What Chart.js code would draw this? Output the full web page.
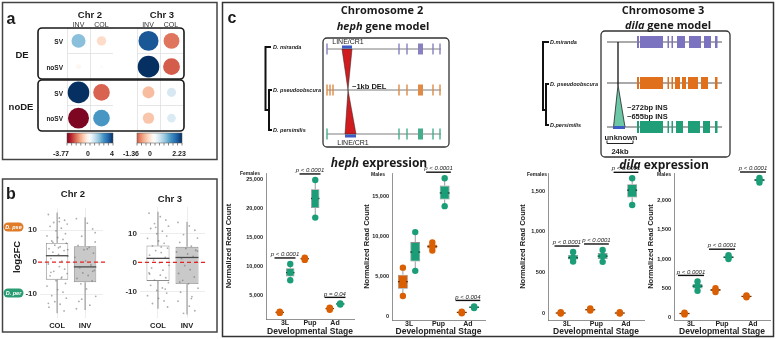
<!DOCTYPE html>
<html lang="en">
<head>
<meta charset="utf-8">
<title>Inversion breakpoints and expression</title>
<script src="https://cdn.jsdelivr.net/npm/chart.js@4.4.1/dist/chart.umd.min.js"></script>
<style>
  html, body { margin: 0; padding: 0; background: #fff; }
  #fig { position: relative; width: 776px; height: 339px; overflow: hidden; }
  #fig canvas { position: absolute; }
  #overlay { position: absolute; left: 0; top: 0; }
</style>
</head>
<body>
<div id="fig">
  <canvas id="corr2"></canvas>
  <canvas id="corr3"></canvas>
  <canvas id="fc2"></canvas>
  <canvas id="fc3"></canvas>
  <canvas id="hephF"></canvas>
  <canvas id="hephM"></canvas>
  <canvas id="dilaF"></canvas>
  <canvas id="dilaM"></canvas>
  <svg id="overlay" width="776" height="339" xmlns="http://www.w3.org/2000/svg"></svg>
</div>
<script>
// ---- panel a: corrplot values (rows SV/noSV for DE then noDE, cols INV/COL)
const corrRows = ['SV', 'noSV', 'SV', 'noSV'];
const corrCols = ['INV', 'COL'];
const chr2Corr = [[1.68, -0.76], [-0.21, 0.1], [4.0, -2.36], [-3.77, 2.36]];
const chr3Corr = [[1.91, -1.2], [2.23, -1.36], [-0.69, 0.39], [-0.62, 0.35]];
const chr2Lim = [-3.77, 4];
const chr3Lim = [-1.36, 2.23];

// ---- panel b: log2FC, box = [low whisker, q1, median, q3, high whisker]
const fcGroups = ['COL', 'INV'];
const chr2Box = [[-16, -5.5, 2, 6, 15.5], [-15, -6.3, -1.5, 5, 14]];
const chr3Box = [[-16, -6.4, 1.4, 5.8, 17.5], [-18, -7.5, 1.7, 5.4, 14]];
const chr2ColPts = [14.9, 13.8, 13.1, 12.4, 11.9, 11.2, 10.6, 9.8, 8.9, 8.2, 7.7, 7.1, 6.6, 5.9, 5.3, 4.8, 4.2, 3.6, 3.1, 2.4,
  1.8, 1.1, 0.3, -0.6, -1.4, -2.2, -2.9, -3.6, -4.3, -5.0, -5.8, -6.7, -7.5, -8.6, -9.4, -10.5, -11.3, -12.4, -13.2, -14.1,
  -15.3, 6.2, 4.5, 3.9, -3.2, -4.7, -12.9, 12.7];
const chr2InvPts = [13.6, 12.2, 10.4, 8.1, 6.3, 5.2, 4.6, 3.9, 2.8, 1.5, 0.4, -0.9, -1.8, -2.6, -3.4, -4.2, -5.1, -5.9, -6.8,
  -8.4, -10.7, -12.3, -13.5, -14.6, 4.1, -2.9, -11.6, 9.2];
const chr3ColPts = [17.0, 15.8, 14.6, 13.4, 12.5, 11.7, 10.8, 9.9, 9.1, 8.3, 7.4, 6.6, 5.7, 4.9, 4.1, 3.4, 2.5, 1.7, 0.8, -0.1,
  -1.0, -1.9, -2.7, -3.6, -4.4, -5.3, -6.1, -7.0, -7.9, -8.8, -9.7, -10.6, -11.5, -12.4, -13.3, -14.2, -15.4, 12.1, 5.3, -4.0, -9.2];
const chr3InvPts = [13.8, 12.6, 11.1, 9.6, 8.4, 6.9, 5.6, 4.8, 4.2, 3.6, 2.9, 2.1, 1.3, 0.2, -1.1, -2.5, -3.8, -5.0, -6.2,
  -7.4, -8.9, -10.3, -11.8, -13.4, -15.1, -16.7, -17.6, 3.9, -6.8, -12.5];

// ---- panel c: normalized read counts, three replicates per stage
const stages = ['3L', 'Pup', 'Ad'];
const hephFemPse = [[2050, 2150, 2250], [11200, 11400, 11600], [2600, 2800, 2950]];
const hephFemPer = [[7700, 9000, 10500], [18500, 21800, 25000], [3500, 3600, 3700]];
const hephFemP = ['p < 0.0001', 'p < 0.0001', 'p = 0.04'];
const hephMalPse = [[2600, 4400, 6150], [8300, 8800, 9300], [450, 550, 650]];
const hephMalPer = [[5750, 8100, 10600], [13850, 15500, 17350], [1100, 1200, 1300]];
const hephMalP = ['', 'p < 0.0001', 'p < 0.004'];
const dilaFemPse = [[5, 10, 20], [40, 50, 65], [5, 10, 20]];
const dilaFemPer = [[640, 685, 755], [635, 705, 780], [1330, 1510, 1655]];
const dilaFemP = ['p < 0.0001', 'p < 0.0001', 'p < 0.0001'];
const dilaMalPse = [[60, 75, 90], [440, 475, 505], [350, 365, 380]];
const dilaMalPer = [[460, 540, 620], [1000, 1030, 1065], [2300, 2340, 2375]];
const dilaMalP = ['p < 0.0001', 'p < 0.0001', 'p < 0.0001'];

const ORANGE = '#d95f02';
const TEAL = '#1b9e77';
const FONT = "'Liberation Sans', Arial, sans-serif";
const RDBU = ['#67001F', '#B2182B', '#D6604D', '#F4A582', '#FDDBC7', '#FFFFFF', '#D1E5F0', '#92C5DE', '#4393C3', '#2166AC', '#053061'];
const JIT = [-0.31, 0.08, 0.27, -0.12, 0.36, -0.25, 0.15, -0.04, 0.3, -0.36, 0.02, 0.21, -0.19, 0.33, -0.08, 0.11, -0.29, 0.25, -0.15, 0.05, 0.38, -0.22, 0.17];

Chart.defaults.font.family = FONT;
Chart.defaults.color = '#1a1a1a';
Chart.defaults.animation = false;
Chart.defaults.responsive = false;
Chart.defaults.events = [];
Chart.defaults.plugins.legend.display = false;
Chart.defaults.plugins.tooltip.enabled = false;

function place(id, l, t, w, h) {
  const c = document.getElementById(id);
  c.width = w; c.height = h;
  c.style.left = l + 'px'; c.style.top = t + 'px';
  c.style.width = w + 'px'; c.style.height = h + 'px';
  return c;
}

function hexRgb(h) {
  const n = parseInt(h.slice(1), 16);
  return [(n >> 16) & 255, (n >> 8) & 255, n & 255];
}
function rdbu(t) {
  t = Math.max(-1, Math.min(1, t));
  const p = (t + 1) / 2 * (RDBU.length - 1);
  const i = Math.min(Math.floor(p), RDBU.length - 2), f = p - i;
  const a = hexRgb(RDBU[i]), b = hexRgb(RDBU[i + 1]);
  return 'rgb(' + a.map((c, k) => Math.round(c + (b[k] - c) * f)).join(',') + ')';
}

function quant(arr, p) {
  const s = [...arr].sort((a, b) => a - b);
  const h = (s.length - 1) * p, i = Math.floor(h);
  return s[i] + (h - i) * ((s[i + 1] ?? s[i]) - s[i]);
}
function summary(arr) {
  return { lo: Math.min(...arr), q1: quant(arr, 0.25), med: quant(arr, 0.5), q3: quant(arr, 0.75), hi: Math.max(...arr) };
}
// ticks on multiples of step inside [min, max]
function stepTicks(step) {
  return axis => {
    const out = [];
    const first = Math.ceil(axis.min / step);
    for (let k = first; k * step <= axis.max + 1e-9; k++) out.push({ value: (k * step) || 0 });
    axis.ticks = out;
  };
}

// whiskers behind the boxes, medians on top of them
const boxPlugin = {
  id: 'boxes',
  beforeDatasetsDraw(chart) {
    const { ctx } = chart, y = chart.scales.y;
    chart.data.datasets.forEach((ds, i) => {
      if (!ds.stats) return;
      chart.getDatasetMeta(i).data.forEach((bar, j) => {
        const s = ds.stats[j];
        ctx.save();
        ctx.strokeStyle = ds.whiskerColor;
        ctx.lineWidth = 1;
        ctx.beginPath();
        ctx.moveTo(bar.x, y.getPixelForValue(s.hi)); ctx.lineTo(bar.x, y.getPixelForValue(s.q3));
        ctx.moveTo(bar.x, y.getPixelForValue(s.q1)); ctx.lineTo(bar.x, y.getPixelForValue(s.lo));
        ctx.stroke();
        ctx.restore();
      });
    });
  },
  afterDatasetDraw(chart, args) {
    const ds = chart.data.datasets[args.index];
    if (!ds.stats) return;
    const { ctx } = chart, y = chart.scales.y;
    args.meta.data.forEach((bar, j) => {
      const yy = y.getPixelForValue(ds.stats[j].med);
      ctx.save();
      ctx.strokeStyle = ds.medianColor;
      ctx.lineWidth = 1.3;
      ctx.beginPath();
      ctx.moveTo(bar.x - bar.width / 2, yy); ctx.lineTo(bar.x + bar.width / 2, yy);
      ctx.stroke();
      ctx.restore();
    });
  }
};

function pvalPlugin(labels, a, b) {
  return {
    id: 'pvals',
    afterDatasetsDraw(chart) {
      const { ctx } = chart, x = chart.scales.x, y = chart.scales.y;
      const u = x.getPixelForValue(1) - x.getPixelForValue(0);
      labels.forEach((lab, g) => {
        if (!lab) return;
        const yy = y.getPixelForValue(Math.max(...a[g], ...b[g])) - 6;
        const xc = x.getPixelForValue(g);
        ctx.save();
        ctx.strokeStyle = '#111';
        ctx.lineWidth = 1.4;
        ctx.beginPath(); ctx.moveTo(xc - 0.42 * u, yy); ctx.lineTo(xc + 0.42 * u, yy); ctx.stroke();
        ctx.font = 'italic 6px ' + FONT;
        ctx.fillStyle = '#222';
        ctx.textAlign = 'center';
        ctx.textBaseline = 'bottom';
        ctx.fillText(lab, xc, yy - 0.5);
        ctx.restore();
      });
    }
  };
}

const zeroLine = {
  id: 'zeroLine',
  afterDatasetsDraw(chart) {
    const { ctx, chartArea } = chart;
    const yy = chart.scales.y.getPixelForValue(0);
    ctx.save();
    ctx.strokeStyle = '#e3231f';
    ctx.lineWidth = 1.4;
    ctx.setLineDash([4, 3]);
    ctx.beginPath(); ctx.moveTo(chartArea.left - 2, yy); ctx.lineTo(chartArea.right + 2, yy); ctx.stroke();
    ctx.restore();
  }
};

// ---- panel a
function corrChart(id, rect, vals, lim) {
  const maxAbs = Math.max(Math.abs(lim[0]), Math.abs(lim[1]));
  const pts = [];
  vals.forEach((row, r) => row.forEach((v, c) => pts.push({ x: c + 0.5, y: r + 0.5, v })));
  const hidden = { display: false, stepSize: 1 };
  new Chart(place(id, ...rect), {
    type: 'bubble',
    data: { datasets: [{
      data: pts,
      clip: false,
      borderWidth: 0,
      backgroundColor: ctx => ctx.raw ? rdbu(ctx.raw.v / maxAbs) : '#fff',
      radius: ctx => ctx.raw ? 10.8 * Math.sqrt(Math.abs(ctx.raw.v) / maxAbs) : 0
    }] },
    options: {
      layout: { padding: 0, autoPadding: false },
      scales: {
        x: { type: 'linear', min: 0, max: corrCols.length, ticks: hidden, border: { display: false },
             grid: { color: '#e0e0e0', lineWidth: 0.8, drawTicks: false } },
        y: { type: 'linear', min: 0, max: corrRows.length, reverse: true, ticks: hidden, border: { display: false },
             grid: { color: '#e0e0e0', lineWidth: 0.8, drawTicks: false } }
      }
    }
  });
}
corrChart('corr2', [67, 28, 46, 103], chr2Corr, chr2Lim);
corrChart('corr3', [137, 28, 46, 103], chr3Corr, chr3Lim);

// ---- panel b
function fcChart(id, rect, yW, xH, pad, xr, yr, box, pointSets) {
  const stats = box.map(s => ({ lo: s[0], q1: s[1], med: s[2], q3: s[3], hi: s[4] }));
  new Chart(place(id, ...rect), {
    type: 'bar',
    data: { datasets: [
      { type: 'scatter', order: 1, pointRadius: 0.9, pointBorderWidth: 0,
        pointBackgroundColor: 'rgba(105,105,105,0.55)',
        data: pointSets.flatMap((arr, g) => arr.map((v, i) => ({ x: g + JIT[i % JIT.length], y: v }))) },
      { type: 'bar', order: 2, grouped: false, barPercentage: 1, maxBarThickness: 23,
        data: stats.map((s, g) => ({ x: g, y: [s.q1, s.q3] })),
        stats, backgroundColor: ['#ffffff', '#c9c9c9'], borderColor: '#8c8c8c', borderWidth: 0.9,
        borderSkipped: false, medianColor: '#4a4a4a', whiskerColor: '#8c8c8c' }
    ] },
    options: {
      layout: { padding: { top: pad[0], right: pad[1], left: 0, bottom: 0 }, autoPadding: false },
      scales: {
        x: { type: 'linear', min: xr[0], max: xr[1], offset: false,
             grid: { color: '#ededed', drawTicks: false, offset: false }, border: { display: false },
             ticks: { autoSkip: false, maxRotation: 0, padding: 3,
                      font: { size: 7.5, weight: 'bold' }, color: '#222', callback: v => fcGroups[v] ?? '' },
             afterBuildTicks: stepTicks(1),
             afterFit: s => { s.height = xH; } },
        y: { min: yr[0], max: yr[1], grid: { color: '#ededed', drawTicks: false }, border: { display: false },
             ticks: { padding: 3, font: { size: 8, weight: 'bold' }, color: '#333' },
             afterBuildTicks: stepTicks(10),
             afterFit: s => { s.width = yW; } }
      }
    },
    plugins: [boxPlugin, zeroLine]
  });
}
fcChart('fc2', [22, 200, 86, 132], 18, 14, [6, 5], [-0.61, 1.64], [-17.5, 17], chr2Box, [chr2ColPts, chr2InvPts]);
fcChart('fc3', [118, 199, 92, 133], 22, 14, [6, 5], [-0.62, 1.62], [-19.2, 19.2], chr3Box, [chr3ColPts, chr3InvPts]);

// ---- panel c expression
const DODGE = 0.21;
function boxSet(vals, off, fill, med) {
  const stats = vals.map(summary);
  return { type: 'bar', order: 2, grouped: false, barPercentage: 1, maxBarThickness: 10,
    data: stats.map((s, g) => ({ x: g + off, y: [s.q1, s.q3] })),
    stats, backgroundColor: fill, borderColor: '#8f8f8f', borderWidth: 0.8, borderSkipped: false,
    medianColor: med, whiskerColor: '#9a9a9a' };
}
function dotSet(vals, off, col) {
  return { type: 'scatter', order: 1, pointRadius: 3.2, pointBorderWidth: 0, pointBackgroundColor: col,
    data: vals.flatMap((r, g) => r.map(v => ({ x: g + off, y: v }))) };
}
function exprChart(id, rect, yW, xH, pad, xr, yr, pse, per, pvals) {
  new Chart(place(id, ...rect), {
    type: 'bar',
    data: { datasets: [
      dotSet(pse, -DODGE, ORANGE),
      dotSet(per, DODGE, TEAL),
      boxSet(pse, -DODGE, ORANGE, '#6e2f00'),
      boxSet(per, DODGE, TEAL, '#0c4a37')
    ] },
    options: {
      layout: { padding: { top: pad[0], right: pad[1], left: 0, bottom: 0 }, autoPadding: false },
      scales: {
        x: { type: 'linear', min: xr[0], max: xr[1], offset: false,
             grid: { display: false, drawTicks: false, offset: false }, border: { color: '#777', width: 0.8 },
             ticks: { autoSkip: false, maxRotation: 0, padding: 0,
                      font: { size: 7, weight: 'bold' }, color: '#222', callback: v => stages[v] ?? '' },
             afterBuildTicks: stepTicks(1),
             title: { display: true, text: 'Developmental Stage', font: { size: 8.5, weight: 'bold' }, color: '#222', padding: 0 },
             afterFit: s => { s.height = xH; } },
        y: { min: yr[0], max: yr[1], grid: { display: false, drawTicks: false }, border: { color: '#777', width: 0.8 },
             ticks: { padding: 3, font: { size: 5.5, weight: 'bold' }, color: '#222',
                      callback: v => v.toLocaleString('en-US') },
             afterBuildTicks: stepTicks(yr[2]),
             title: { display: true, text: 'Normalized Read Count', font: { size: 7.5, weight: 'bold' }, color: '#222',
                      padding: { top: 0, bottom: 2 } },
             afterFit: s => { s.width = yW; } }
      }
    },
    plugins: [boxPlugin, pvalPlugin(pvals, pse, per)]
  });
}
exprChart('hephF', [224, 166, 134, 171], 42, 18, [7, 4], [-0.76, 2.76], [1000, 26200, 5000], hephFemPse, hephFemPer, hephFemP);
exprChart('hephM', [362, 166, 126, 171], 30, 17, [7, 3], [-0.58, 2.58], [-400, 18000, 5000], hephMalPse, hephMalPer, hephMalP);
exprChart('dilaF', [518, 166, 128, 171], 30, 17, [7, 2], [-0.64, 2.61], [-75, 1720, 500], dilaFemPse, dilaFemPer, dilaFemP);
exprChart('dilaM', [646, 166, 127, 171], 28, 17, [7, 3], [-0.55, 2.55], [-35, 2460, 500], dilaMalPse, dilaMalPer, dilaMalP);

// ---- frames, labels and gene models
const S = [];
function tx(x, y, s, size, o = {}) {
  const rot = o.rotate ? ` transform="rotate(${o.rotate} ${x} ${y})"` : '';
  S.push(`<text x="${x}" y="${y}" font-size="${size}" font-weight="${o.weight || 'bold'}" font-style="${o.italic ? 'italic' : 'normal'}"` +
    ` fill="${o.fill || '#1a1a1a'}" text-anchor="${o.anchor || 'middle'}" dominant-baseline="central"` +
    ` font-family="${o.family || FONT}"${rot}>${s}</text>`);
}
function ln(d, stroke, w) { S.push(`<path d="${d}" stroke="${stroke}" stroke-width="${w}" fill="none"/>`); }
function rc(x, y, w, h, fill, extra = '') { S.push(`<rect x="${x}" y="${y}" width="${w}" height="${h}" fill="${fill}" ${extra}/>`); }
const frame = 'stroke="#444" stroke-width="1.5"';

// panel a
rc(2.5, 2.5, 214.5, 157, 'none', frame);
rc(38, 28, 146, 51, 'none', 'rx="4" stroke="#1a1a1a" stroke-width="1.6"');
rc(38, 80, 146, 51, 'none', 'rx="4" stroke="#1a1a1a" stroke-width="1.6"');
tx(11, 18, 'a', 16);
tx(90, 14, 'Chr 2', 9.5);
tx(162, 14, 'Chr 3', 9.5);
[[78.5, 0], [101.5, 1], [148, 0], [171, 1]].forEach(([x, c]) => tx(x, 24, corrCols[c], 7, { weight: 'normal', fill: '#333' }));
[41, 67, 93, 118].forEach((y, r) => tx(63, y, corrRows[r], 6.5, { anchor: 'end' }));
tx(22, 54, 'DE', 9.5);
tx(21, 106, 'noDE', 9.5);
function colorbar(id, x, w, lim) {
  const maxAbs = Math.max(Math.abs(lim[0]), Math.abs(lim[1]));
  let stops = '';
  for (let k = 0; k <= 20; k++) {
    const v = lim[0] + (lim[1] - lim[0]) * k / 20;
    stops += `<stop offset="${k * 5}%" stop-color="${rdbu(v / maxAbs)}"/>`;
  }
  S.push(`<defs><linearGradient id="${id}" x1="0" x2="1" y1="0" y2="0">${stops}</linearGradient></defs>`);
  rc(x, 133, w, 10, `url(#${id})`, 'stroke="#555" stroke-width="0.5"');
  for (let k = 0; k <= 10; k++) ln(`M${x + w * k / 10} 143 V145.5`, '#555', 0.7);
}
colorbar('g2', 67, 46, chr2Lim);
colorbar('g3', 137, 45, chr3Lim);
tx(61, 153, '-3.77', 7); tx(88, 153, '0', 7); tx(112, 153, '4', 7);
tx(131, 153, '-1.36', 7); tx(150, 153, '0', 7); tx(179, 153, '2.23', 7);

// panel b
rc(2.5, 179, 214.5, 153, 'none', frame);
tx(11, 193, 'b', 16);
tx(73, 193, 'Chr 2', 9.5);
tx(170, 198, 'Chr 3', 9.5);
rc(3.5, 222.5, 20, 9, '#e07b28', 'rx="4.5"');
tx(13.5, 227, 'D. pse', 5.5, { italic: true, fill: '#fff' });
rc(3.5, 288.5, 20, 9, '#2a9d74', 'rx="4.5"');
tx(13.5, 293, 'D. per', 5.5, { italic: true, fill: '#fff' });
tx(16, 257, 'log2FC', 9.5, { rotate: -90 });

// panel c
rc(222.5, 2.5, 551, 334, 'none', 'stroke="#333" stroke-width="1.5"');
tx(232, 17, 'c', 16);
const OS = "'Open Sans', " + FONT;
tx(382, 9, 'Chromosome 2', 11, { family: OS });
tx(383, 25, '<tspan font-style="italic">heph</tspan> gene model', 11, { family: OS });
tx(663, 9, 'Chromosome 3', 11, { family: OS });
tx(668, 24, '<tspan font-style="italic">dila</tspan> gene model', 11, { family: OS });
tx(379, 162, '<tspan font-style="italic">heph</tspan> expression', 12, { family: OS });
tx(664, 164, '<tspan font-style="italic">dila</tspan> expression', 12, { family: OS });
tx(250, 173, 'Females', 5); tx(378, 174, 'Males', 5); tx(537, 174, 'Females', 5); tx(664, 174, 'Males', 5);

// species trees
ln('M271 47 H265.5 V110 H269 M272 90 H269 V130 H272', '#111', 2);
ln('M549 42 H543 V110 H546 M549 84 H546 V125 H549', '#111', 2);
[['D. miranda', 47], ['D. pseudoobscura', 90], ['D. persimilis', 130]].forEach(([s, y]) => tx(273, y, s, 5.5, { italic: true, anchor: 'start' }));
[['D.miranda', 42], ['D. pseudoobscura', 84], ['D.persimilis', 125]].forEach(([s, y]) => tx(550, y, s, 5.5, { italic: true, anchor: 'start' }));

// heph gene model
rc(323, 38, 126, 109, 'none', 'rx="4" stroke="#333" stroke-width="1.3"');
const hephRows = [[49, '#8781c2', [327]], [90, '#df8a47', [327, 330, 333]], [134, '#45ad8c', [327]]];
hephRows.forEach(([y, col, left]) => {
  ln(`M327 ${y} H441`, '#7d7d7d', 1);
  left.concat([399, 407, 433, 440]).forEach(x => rc(x - 0.7, y - 5.5, 1.4, 11, col));
  rc(418, y - 5.5, 5, 11, col);
});
S.push('<polygon points="342,49 352,49 348,90" fill="#d01c1f" stroke="#222" stroke-width="0.5"/>');
S.push('<polygon points="348,90 345,134 356,134" fill="#d01c1f" stroke="#222" stroke-width="0.5"/>');
rc(342, 45.5, 10, 3, '#3c5cc4');
rc(345, 134.5, 11, 3, '#3c5cc4');
tx(348, 41.5, 'LINE/CR1', 7, { weight: 'normal', fill: '#222' });
tx(353, 142.5, 'LINE/CR1', 7, { weight: 'normal', fill: '#222' });
tx(352, 86, '~1kb DEL', 7.5, { anchor: 'start' });

// dila gene model
rc(601, 31, 129, 126, 'none', 'rx="4" stroke="#333" stroke-width="1.3"');
const dilaRows = [
  [42, '#7b72c0', [[637, 639], [640, 663], [667.5, 669], [671.5, 673], [677, 685], [689, 701], [704, 711], [715, 717.5]]],
  [83, '#e0701c', [[637, 639], [640, 663], [667.5, 669], [671.5, 673], [675, 680], [682, 686], [688, 698], [701, 708], [715, 717.5]]],
  [127, '#1f9e78', [[637, 639], [640, 663], [667.5, 669], [671.5, 673], [676, 683], [688, 700], [703, 710], [715, 717.5]]]
];
dilaRows.forEach(([y, col, ex]) => {
  ln(`M607 ${y} H722`, '#555', 1);
  ex.forEach(([a, b]) => rc(a, y - 6, b - a, 12, col));
});
ln('M618 42 V85', '#111', 1.3);
S.push('<polygon points="618,85 613.5,127 625,127" fill="#6cc7a6" stroke="#222" stroke-width="0.8"/>');
rc(613, 126, 12, 3, '#3c5cc4');
tx(621, 137, 'unknown', 7.5, { fill: '#222' });
ln('M607 140.5 V143.5 H633 V140.5', '#222', 1);
tx(620, 151, '24kb', 7.5, { fill: '#222' });
tx(627, 107, '~272bp INS', 7.5, { anchor: 'start' });
tx(627, 116, '~655bp INS', 7.5, { anchor: 'start' });

document.getElementById('overlay').innerHTML = S.join('');
</script>
</body>
</html>
